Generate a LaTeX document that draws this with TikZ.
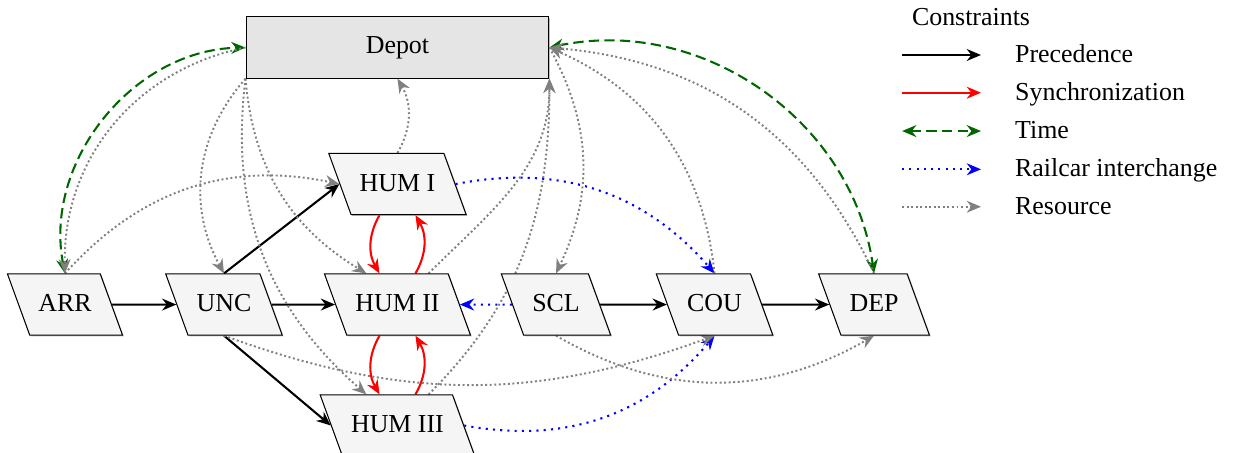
\documentclass[tikz,border=0pt]{standalone}
\usepackage{fontspec}
\setmainfont{Liberation Serif}
\usetikzlibrary{shapes.geometric,arrows.meta,shadows,backgrounds}

\begin{document}
\begin{tikzpicture}[
        >={Stealth[length=5.5pt,width=4.6pt,inset=1.8pt]},
        task/.style={trapezium, trapezium left angle=110, trapezium right angle=70,
            draw, fill=gray!8, text height=1.5ex, text depth=0.25ex, inner ysep=7.8pt,
            drop shadow={shadow xshift=0.5pt, shadow yshift=-0.5pt}},
        depotbox/.style={rectangle, draw, fill=gray!20, minimum width=4.11cm, minimum height=0.83cm,
            drop shadow={shadow xshift=0.5pt, shadow yshift=-0.5pt}},
        precedence/.style={->, thick, black},
        sync/.style={->, thick, red},
        timelink/.style={<->, thick, green!40!black, dash pattern=on 4pt off 2pt},
        railcar/.style={->, thick, blue, dotted},
        resource/.style={->, line width=0.75pt, gray, densely dotted},
        legendtext/.style={anchor=west, text height=1.5ex, text depth=0.25ex}
    ]
        \useasboundingbox (0,0) rectangle (16.797,-6.133);

        % Depot and tasks
        \node[depotbox] (depot) at (5.393,-0.645) {Depot};
        \node[task] (hum1) at (5.393,-2.497) {HUM I};
        \node[task] (arr) at (0.882,-4.132) {ARR};
        \node[task] (unc) at (3.039,-4.132) {UNC};
        \node[task] (hum2) at (5.393,-4.132) {HUM II};
        \node[task] (scl) at (7.544,-4.132) {SCL};
        \node[task] (cou) at (9.695,-4.132) {COU};
        \node[task] (dep) at (11.859,-4.132) {DEP};
        \node[task] (hum3) at (5.393,-5.773) {HUM III};

        \begin{pgfonlayer}{background}
        % Precedence
        \draw[precedence] (arr) -- (unc);
        \draw[precedence] (unc) -- (hum2);
        \draw[precedence] (unc.90) -- (hum1.west);
        \draw[precedence] (unc.-90) -- (hum3.west);
        \draw[precedence] (scl) -- (cou);
        \draw[precedence] (cou) -- (dep);

        % Synchronization
        \draw[sync] (hum1.-120) to[bend right=30] (hum2.120);
        \draw[sync] (hum2.60) to[bend right=30] (hum1.-60);
        \draw[sync] (hum2.-120) to[bend right=30] (hum3.120);
        \draw[sync] (hum3.60) to[bend right=30] (hum2.-60);

        % Time
        \draw[timelink] (arr.90) to[bend left=50] (depot.west);
        \draw[timelink] (depot.east) to[bend left=47] (dep.90);

        % Railcar interchange
        \draw[railcar] (hum1.east) to[bend left=30] (cou.90);
        \draw[railcar] (scl) -- (hum2);
        \draw[railcar] (hum3.east) to[bend right=30] (cou.-90);

        % Resource
        \draw[resource] (depot.west) to[bend right=40] (arr.90);
        \draw[resource] (arr.90) to[bend left=30] (hum1.west);
        \draw[resource] (depot.south west) to[bend right=35] (unc.90);
        \draw[resource] (depot.south west) to[bend right=27] (hum2.135);
        \draw[resource] (depot.south west) to[bend right=28] (hum3.135);
        \draw[resource] (hum1.90) to[bend right=30] (depot.south);
        \draw[resource] (hum2.45) to[out=45,in=-90] (depot.south east);
        \draw[resource] (hum3.45) to[out=45,in=-90] (depot.south east);
        \draw[resource] (depot.east) to[bend left=27] (scl.90);
        \draw[resource] (cou.90) to[bend right=30] (depot.east);
        \draw[resource] (dep.90) to[bend right=30] (depot.east);
        \draw[resource] (unc.-90) to[bend right=20] (cou.-90);
        \draw[resource] (scl.-90) to[bend right=30] (dep.-90);
        \end{pgfonlayer}

        % Legend
        \node[legendtext] (legend) at (12.25,-0.248) {Constraints};
        \coordinate (prec-a) at (12.24,-0.746);
        \coordinate (prec-b) at (13.31,-0.746);
        \draw[precedence] (prec-a) -- (prec-b);
        \node[legendtext] (prec-text) at (13.65,-0.746) {Precedence};
        \coordinate (sync-a) at (12.24,-1.258);
        \coordinate (sync-b) at (13.31,-1.258);
        \draw[sync] (sync-a) -- (sync-b);
        \node[legendtext] (sync-text) at (13.65,-1.258) {Synchronization};
        \coordinate (time-a) at (12.24,-1.778);
        \coordinate (time-b) at (13.31,-1.778);
        \draw[timelink] (time-a) -- (time-b);
        \node[legendtext] (time-text) at (13.65,-1.778) {Time};
        \coordinate (rail-a) at (12.24,-2.297);
        \coordinate (rail-b) at (13.31,-2.297);
        \draw[railcar] (rail-a) -- (rail-b);
        \node[legendtext] (rail-text) at (13.65,-2.297) {Railcar interchange};
        \coordinate (res-a) at (12.24,-2.805);
        \coordinate (res-b) at (13.31,-2.805);
        \draw[resource] (res-a) -- (res-b);
        \node[legendtext] (res-text) at (13.65,-2.805) {Resource};
    \end{tikzpicture}
\end{document}
